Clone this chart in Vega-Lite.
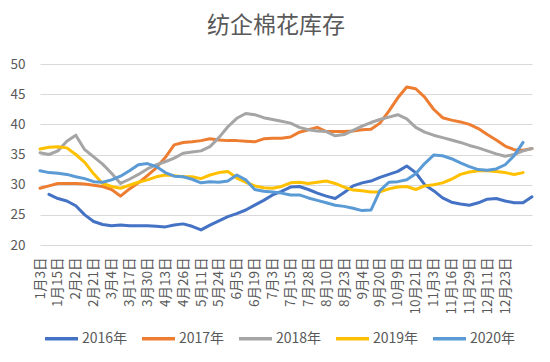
{
  "$schema": "https://vega.github.io/schema/vega-lite/v6.json",
  "width": 492,
  "height": 181,
  "autosize": {"type": "none"},
  "padding": {"left": 40, "top": 64, "right": 18, "bottom": 117},
  "background": "white",
  "title": {
    "text": "纺企棉花库存",
    "fontSize": 23,
    "font": "Noto Sans CJK SC",
    "fontWeight": "normal",
    "color": "#595959",
    "anchor": "middle",
    "frame": "group",
    "dx": -10,
    "offset": 19
  },
  "data": {
    "values": [
      {"d": "1月3日", "2016年": null, "2017年": 29.4, "2018年": 35.3, "2019年": 35.9, "2020年": 32.3},
      {"d": "1月9日", "2016年": 28.4, "2017年": 29.8, "2018年": 35.0, "2019年": 36.2, "2020年": 32.0},
      {"d": "1月15日", "2016年": 27.7, "2017年": 30.2, "2018年": 35.6, "2019年": 36.3, "2020年": 31.9},
      {"d": "1月24日", "2016年": 27.3, "2017年": 30.2, "2018年": 37.2, "2019年": 36.1, "2020年": 31.7},
      {"d": "2月2日", "2016年": 26.5, "2017年": 30.2, "2018年": 38.2, "2019年": 35.0, "2020年": 31.3},
      {"d": "2月11日", "2016年": 25.0, "2017年": 30.1, "2018年": 35.8, "2019年": 33.7, "2020年": 31.0},
      {"d": "2月21日", "2016年": 23.9, "2017年": 29.9, "2018年": 34.6, "2019年": 31.8, "2020年": 30.5},
      {"d": "2月27日", "2016年": 23.4, "2017年": 29.7, "2018年": 33.4, "2019年": 30.2, "2020年": 30.4},
      {"d": "3月4日", "2016年": 23.2, "2017年": 29.2, "2018年": 31.9, "2019年": 29.7, "2020年": 30.8},
      {"d": "3月10日", "2016年": 23.3, "2017年": 28.1, "2018年": 30.2, "2019年": 29.4, "2020年": 31.4},
      {"d": "3月17日", "2016年": 23.2, "2017年": 29.3, "2018年": 30.9, "2019年": 29.9, "2020年": 32.3},
      {"d": "3月23日", "2016年": 23.2, "2017年": 30.3, "2018年": 31.7, "2019年": 30.4, "2020年": 33.3},
      {"d": "3月30日", "2016年": 23.2, "2017年": 31.5, "2018年": 32.6, "2019年": 30.8, "2020年": 33.5},
      {"d": "4月6日", "2016年": 23.1, "2017年": 32.8, "2018年": 33.3, "2019年": 31.3, "2020年": 33.0},
      {"d": "4月13日", "2016年": 23.0, "2017年": 34.5, "2018年": 33.8, "2019年": 31.6, "2020年": 32.0},
      {"d": "4月20日", "2016年": 23.3, "2017年": 36.6, "2018年": 34.4, "2019年": 31.5, "2020年": 31.4},
      {"d": "4月26日", "2016年": 23.5, "2017年": 37.0, "2018年": 35.2, "2019年": 31.3, "2020年": 31.3},
      {"d": "5月4日", "2016年": 23.1, "2017年": 37.1, "2018年": 35.4, "2019年": 31.3, "2020年": 30.9},
      {"d": "5月11日", "2016年": 22.5, "2017年": 37.3, "2018年": 35.6, "2019年": 31.0, "2020年": 30.3},
      {"d": "5月17日", "2016年": 23.3, "2017年": 37.6, "2018年": 36.3, "2019年": 31.6, "2020年": 30.5},
      {"d": "5月24日", "2016年": 24.0, "2017年": 37.4, "2018年": 37.8, "2019年": 32.0, "2020年": 30.4},
      {"d": "5月30日", "2016年": 24.7, "2017年": 37.3, "2018年": 39.6, "2019年": 32.2, "2020年": 30.6},
      {"d": "6月5日", "2016年": 25.2, "2017年": 37.3, "2018年": 41.0, "2019年": 31.1, "2020年": 31.6},
      {"d": "6月12日", "2016年": 25.8, "2017年": 37.2, "2018年": 41.8, "2019年": 30.4, "2020年": 30.8},
      {"d": "6月19日", "2016年": 26.6, "2017年": 37.1, "2018年": 41.6, "2019年": 29.8, "2020年": 29.2},
      {"d": "6月26日", "2016年": 27.4, "2017年": 37.6, "2018年": 41.1, "2019年": 29.5, "2020年": 28.9},
      {"d": "7月3日", "2016年": 28.3, "2017年": 37.7, "2018年": 40.8, "2019年": 29.4, "2020年": 28.8},
      {"d": "7月9日", "2016年": 28.9, "2017年": 37.7, "2018年": 40.5, "2019年": 29.7, "2020年": 28.6},
      {"d": "7月15日", "2016年": 29.6, "2017年": 37.9, "2018年": 40.2, "2019年": 30.3, "2020年": 28.3},
      {"d": "7月22日", "2016年": 29.7, "2017年": 38.7, "2018年": 39.5, "2019年": 30.4, "2020年": 28.3},
      {"d": "7月28日", "2016年": 29.2, "2017年": 39.1, "2018年": 39.1, "2019年": 30.2, "2020年": 27.8},
      {"d": "8月3日", "2016年": 28.6, "2017年": 39.5, "2018年": 38.9, "2019年": 30.4, "2020年": 27.4},
      {"d": "8月10日", "2016年": 28.1, "2017年": 38.8, "2018年": 38.8, "2019年": 30.6, "2020年": 27.0},
      {"d": "8月16日", "2016年": 27.7, "2017年": 38.8, "2018年": 38.1, "2019年": 30.2, "2020年": 26.6},
      {"d": "8月23日", "2016年": 28.7, "2017年": 38.8, "2018年": 38.3, "2019年": 29.6, "2020年": 26.4},
      {"d": "8月29日", "2016年": 29.8, "2017年": 38.9, "2018年": 39.0, "2019年": 29.1, "2020年": 26.1},
      {"d": "9月4日", "2016年": 30.3, "2017年": 39.1, "2018年": 39.7, "2019年": 29.0, "2020年": 25.7},
      {"d": "9月12日", "2016年": 30.6, "2017年": 39.2, "2018年": 40.3, "2019年": 28.8, "2020年": 25.8},
      {"d": "9月20日", "2016年": 31.2, "2017年": 40.2, "2018年": 40.8, "2019年": 28.8, "2020年": 29.0},
      {"d": "9月30日", "2016年": 31.7, "2017年": 42.2, "2018年": 41.2, "2019年": 29.3, "2020年": 30.4},
      {"d": "10月9日", "2016年": 32.2, "2017年": 44.4, "2018年": 41.6, "2019年": 29.6, "2020年": 30.5},
      {"d": "10月15日", "2016年": 33.1, "2017年": 46.2, "2018年": 40.9, "2019年": 29.7, "2020年": 30.8},
      {"d": "10月21日", "2016年": 32.0, "2017年": 45.9, "2018年": 39.5, "2019年": 29.2, "2020年": 31.8},
      {"d": "10月27日", "2016年": 30.0, "2017年": 44.5, "2018年": 38.7, "2019年": 29.8, "2020年": 33.5},
      {"d": "11月3日", "2016年": 29.0, "2017年": 42.5, "2018年": 38.2, "2019年": 30.0, "2020年": 34.9},
      {"d": "11月9日", "2016年": 27.8, "2017年": 41.1, "2018年": 37.8, "2019年": 30.3, "2020年": 34.8},
      {"d": "11月16日", "2016年": 27.1, "2017年": 40.7, "2018年": 37.4, "2019年": 30.9, "2020年": 34.3},
      {"d": "11月22日", "2016年": 26.8, "2017年": 40.4, "2018年": 37.0, "2019年": 31.7, "2020年": 33.6},
      {"d": "11月29日", "2016年": 26.6, "2017年": 40.0, "2018年": 36.5, "2019年": 32.1, "2020年": 33.0},
      {"d": "12月5日", "2016年": 27.0, "2017年": 39.3, "2018年": 36.1, "2019年": 32.3, "2020年": 32.5},
      {"d": "12月11日", "2016年": 27.6, "2017年": 38.3, "2018年": 35.6, "2019年": 32.3, "2020年": 32.4},
      {"d": "12月17日", "2016年": 27.7, "2017年": 37.4, "2018年": 35.1, "2019年": 32.2, "2020年": 32.6},
      {"d": "12月23日", "2016年": 27.3, "2017年": 36.4, "2018年": 34.7, "2019年": 32.0, "2020年": 33.3},
      {"d": "12月27日", "2016年": 27.0, "2017年": 35.8, "2018年": 35.0, "2019年": 31.7, "2020年": 34.8},
      {"d": "12月29日", "2016年": 27.0, "2017年": 35.7, "2018年": 35.6, "2019年": 32.0, "2020年": 37.0},
      {"d": "12月31日", "2016年": 28.0, "2017年": 36.0, "2018年": 36.0, "2019年": null, "2020年": null}
    ]
  },
  "transform": [
    {"fold": ["2016年", "2017年", "2018年", "2019年", "2020年"], "as": ["year", "v"]}
  ],
  "mark": {"type": "line", "strokeWidth": 3, "strokeCap": "round", "strokeJoin": "round"},
  "encoding": {
    "x": {
      "field": "d",
      "type": "ordinal",
      "sort": null,
      "scale": {"type": "point", "padding": 0},
      "axis": {
        "title": null,
        "values": ["1月3日", "1月15日", "2月2日", "2月21日", "3月4日", "3月17日", "3月30日", "4月13日", "4月26日", "5月11日", "5月24日", "6月5日", "6月19日", "7月3日", "7月15日", "7月28日", "8月10日", "8月23日", "9月4日", "9月20日", "10月9日", "10月21日", "11月3日", "11月16日", "11月29日", "12月11日", "12月23日"],
        "labelAngle": -90,
        "labelFont": "Noto Sans CJK SC",
        "labelFontSize": 13.5,
        "labelColor": "#595959",
        "labelPadding": 12,
        "ticks": false,
        "domain": false,
        "grid": false,
        "labelOverlap": false
      }
    },
    "y": {
      "field": "v",
      "type": "quantitative",
      "scale": {"domain": [20, 50], "nice": false, "zero": false},
      "axis": {
        "title": null,
        "values": [20, 25, 30, 35, 40, 45, 50],
        "labelFont": "Noto Sans CJK SC",
        "labelFontSize": 13.5,
        "labelColor": "#595959",
        "labelPadding": 15,
        "ticks": false,
        "domain": false,
        "gridColor": "#D9D9D9",
        "gridWidth": 1
      }
    },
    "color": {
      "field": "year",
      "type": "nominal",
      "scale": {
        "domain": ["2016年", "2017年", "2018年", "2019年", "2020年"],
        "range": ["#4472C4", "#ED7D31", "#A5A5A5", "#FFC000", "#5B9BD5"]
      },
      "legend": {
        "title": null,
        "orient": "none",
        "direction": "horizontal",
        "legendX": 3,
        "legendY": 256,
        "symbolType": "stroke",
        "symbolSize": 1089,
        "symbolStrokeWidth": 3.5,
        "labelFont": "Noto Sans CJK SC",
        "labelFontSize": 14,
        "labelColor": "#595959",
        "labelOffset": 2,
        "columnPadding": 7,
        "padding": 0
      }
    }
  },
  "config": {"view": {"stroke": null}}
}
